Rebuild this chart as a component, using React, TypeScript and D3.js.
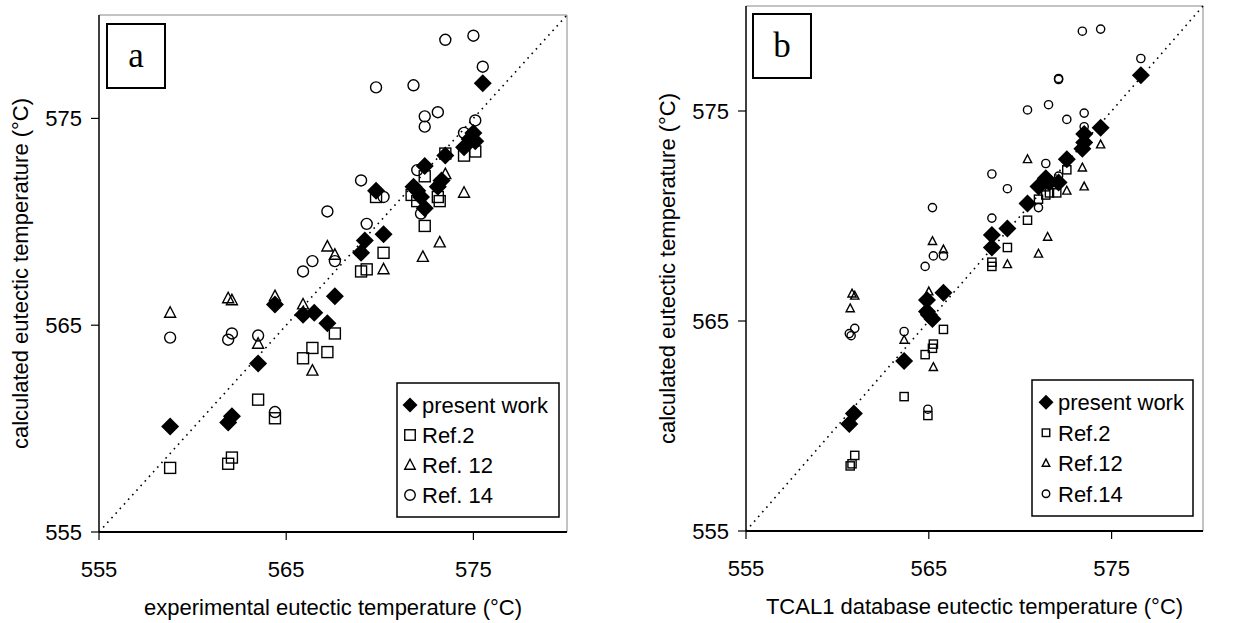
import * as d3 from "d3";
import React from "react";

type Pt = [number, number];

// tick values shared by both panels
const ticks = [555, 565, 575];
const domain: [number, number] = [555, 580];

// panel a: experimental vs calculated
const presentA: Pt[] = [
  [575.5, 576.7], [575.0, 574.3], [575.1, 573.9], [574.8, 574.0], [574.5, 573.6], [573.5, 573.2],
  [572.4, 572.7], [571.8, 571.7], [572.0, 571.5], [572.2, 571.2], [572.4, 570.65], [573.1, 571.7],
  [573.3, 572.0], [569.8, 571.5], [570.2, 569.4], [569.2, 569.1], [569.0, 568.5], [567.6, 566.4],
  [564.4, 566.0], [565.9, 565.5], [566.5, 565.6], [567.2, 565.1], [563.5, 563.15], [558.8, 560.1],
  [561.9, 560.3], [562.1, 560.6],
];
const ref2A: Pt[] = [
  [575.1, 573.4], [574.5, 573.2], [573.5, 573.3], [572.4, 572.2], [571.7, 571.3], [572.0, 571.0],
  [573.1, 571.2], [573.2, 571.0], [572.4, 569.8], [569.8, 571.2], [570.2, 568.5], [569.0, 567.6],
  [569.3, 567.7], [567.6, 564.6], [566.4, 563.9], [567.2, 563.7], [565.9, 563.4], [563.5, 561.4],
  [564.4, 560.5], [558.8, 558.1], [561.9, 558.3], [562.1, 558.6],
];
const ref12A: Pt[] = [
  [573.5, 572.3], [574.5, 571.4], [573.2, 569.0], [572.3, 568.3], [567.2, 568.8], [567.6, 568.4],
  [570.2, 567.7], [561.9, 566.3], [562.1, 566.2], [564.4, 566.4], [565.9, 566.0], [558.8, 565.6],
  [563.5, 564.1], [566.4, 562.8],
];
const ref14A: Pt[] = [
  [573.5, 578.8], [575.0, 579.0], [575.5, 577.5], [569.8, 576.5], [571.8, 576.6], [573.1, 575.3],
  [572.4, 575.1], [572.4, 574.6], [575.1, 574.9], [574.5, 574.3], [572.0, 572.5], [573.2, 571.9],
  [569.0, 572.0], [570.2, 571.2], [572.2, 570.4], [567.2, 570.5], [569.3, 569.9], [566.4, 568.1],
  [565.9, 567.6], [567.6, 568.1], [558.8, 564.4], [561.9, 564.3], [562.1, 564.6], [563.5, 564.5],
  [564.4, 560.8],
];

// panel b: TCAL1 database vs calculated
const presentB: Pt[] = [
  [576.6, 576.7], [574.4, 574.2], [573.5, 573.9], [573.5, 573.5], [573.4, 573.2], [572.55, 572.7],
  [571.4, 571.8], [571.0, 571.4], [572.1, 571.6], [571.6, 571.6], [570.4, 570.6], [569.3, 569.4],
  [568.45, 569.1], [568.45, 568.5], [565.8, 566.35], [564.9, 566.0], [564.9, 565.45], [565.0, 565.3],
  [565.2, 565.1], [563.65, 563.1], [560.65, 560.1], [560.9, 560.6],
];
const ref2B: Pt[] = [
  [572.55, 572.2], [571.4, 571.0], [571.6, 571.1], [572.0, 571.1], [571.0, 570.8], [570.4, 569.8],
  [569.3, 568.5], [568.45, 567.6], [568.45, 567.8], [565.8, 564.6], [565.25, 563.9], [565.2, 563.7],
  [564.8, 563.4], [563.65, 561.4], [564.95, 560.5], [560.7, 558.1], [560.8, 558.2], [560.95, 558.6],
];
const ref12B: Pt[] = [
  [574.4, 573.4], [573.4, 572.3], [570.4, 572.7], [573.5, 571.4], [572.55, 571.2], [571.5, 569.0],
  [571.0, 568.2], [569.3, 567.7], [565.2, 568.8], [565.8, 568.4], [560.8, 566.3], [560.95, 566.2],
  [560.7, 565.6], [565.0, 566.4], [563.65, 564.1], [565.25, 562.8],
];
const ref14B: Pt[] = [
  [573.4, 578.8], [574.4, 578.9], [576.6, 577.5], [572.1, 576.55], [572.1, 576.5], [570.4, 575.05],
  [571.55, 575.3], [572.55, 574.6], [573.5, 574.9], [573.5, 574.25], [571.4, 572.5], [568.45, 572.0],
  [569.3, 571.3], [571.0, 570.4], [572.1, 571.9], [565.2, 570.4], [568.45, 569.9], [565.25, 568.1],
  [565.8, 568.1], [564.8, 567.6], [560.65, 564.4], [560.75, 564.3], [560.95, 564.65], [563.65, 564.5],
  [564.95, 560.8],
];

const legendA = ["present work", "Ref.2", "Ref. 12", "Ref. 14"];
const legendB = ["present work", "Ref.2", "Ref.12", "Ref.14"];

const FONT = "'Liberation Sans', Arial, sans-serif";

type Kind = "diamond" | "square" | "triangle" | "circle";

const Marker: React.FC<{ kind: Kind; x: number; y: number; s: number }> = ({ kind, x, y, s }) => {
  const sw = 1.4;
  if (kind === "diamond")
    return <path d={`M${x},${y - s}L${x + s},${y}L${x},${y + s}L${x - s},${y}Z`} fill="black" />;
  if (kind === "square")
    return <rect x={x - s / 2} y={y - s / 2} width={s} height={s} fill="none" stroke="black" strokeWidth={sw} />;
  if (kind === "triangle")
    return (
      <path
        d={`M${x},${y - s * 0.55}L${x + s / 2},${y + s * 0.4}L${x - s / 2},${y + s * 0.4}Z`}
        fill="none" stroke="black" strokeWidth={sw} strokeLinejoin="miter"
      />
    );
  return <circle cx={x} cy={y} r={s / 2} fill="none" stroke="black" strokeWidth={sw} />;
};

interface PanelProps {
  series: Pt[][];
  labels: string[];
  x0: number; x1: number; y0: number; y1: number;
  open: number;
  legend: { x: number; y: number; w: number; h: number; mx: number; open: number };
  letter: string;
  box: { x: number; y: number };
  xTitle: string;
  yTitleX: number;
}

const kinds: Kind[] = ["diamond", "square", "triangle", "circle"];

const Panel: React.FC<PanelProps> = (p) => {
  const x = d3.scaleLinear().domain(domain).range([p.x0, p.x1]);
  const y = d3.scaleLinear().domain(domain).range([p.y1, p.y0]);
  const cx = (p.x0 + p.x1) / 2;
  const cy = (p.y0 + p.y1) / 2;
  const rowH = (p.legend.h - 14) / 4;
  return (
    <g fontFamily={FONT}>
      {/* frame */}
      <line x1={p.x0} x2={p.x1} y1={p.y0} y2={p.y0} stroke="#888" strokeWidth={1} />
      <line x1={p.x1} x2={p.x1} y1={p.y0} y2={p.y1} stroke="#888" strokeWidth={1} />
      <line x1={p.x0} x2={p.x0} y1={p.y0} y2={p.y1} stroke="black" strokeWidth={1.5} />
      <line x1={p.x0} x2={p.x1} y1={p.y1} y2={p.y1} stroke="black" strokeWidth={2} />
      {/* diagonal */}
      <line x1={x(555)} y1={y(555)} x2={x(580)} y2={y(580)} stroke="black" strokeWidth={1.6} strokeDasharray="1.6,4.6" />
      {ticks.map((t) => (
        <g key={"x" + t}>
          <line x1={x(t)} x2={x(t)} y1={p.y1} y2={p.y1 + 8} stroke="black" strokeWidth={1.2} />
          <text x={x(t)} y={p.y1 + 45} textAnchor="middle" fontSize={22}>{t}</text>
        </g>
      ))}
      {ticks.map((t) => (
        <g key={"y" + t}>
          <line x1={p.x0 - 8} x2={p.x0} y1={y(t)} y2={y(t)} stroke="black" strokeWidth={1.2} />
          <text x={p.x0 - 17} y={y(t)} dy="0.36em" textAnchor="end" fontSize={22}>{t}</text>
        </g>
      ))}
      <text x={cx} y={p.y1 + 83} textAnchor="middle" fontSize={22}>{p.xTitle}</text>
      <text transform={`translate(${p.yTitleX},${cy}) rotate(-90)`} textAnchor="middle" dy="0.36em" fontSize={22}>
        calculated eutectic temperature (°C)
      </text>
      {/* markers */}
      {p.series.map((s, i) =>
        s.map((d, j) => (
          <Marker key={i + "-" + j} kind={kinds[i]} x={x(d[0])} y={y(d[1])} s={i === 0 ? 9 : p.open} />
        ))
      )}
      {/* letter box */}
      <rect x={p.box.x} y={p.box.y} width={58} height={64} fill="white" stroke="black" strokeWidth={2} />
      <text x={p.box.x + 29} y={p.box.y + 32} dy="0.3em" textAnchor="middle" fontSize={35} fontFamily="'Liberation Serif', 'Times New Roman', serif">
        {p.letter}
      </text>
      {/* legend */}
      <rect x={p.legend.x} y={p.legend.y} width={p.legend.w} height={p.legend.h} fill="white" stroke="black" strokeWidth={1.5} />
      {p.labels.map((l, i) => {
        const ry = p.legend.y + 7 + rowH * (i + 0.5);
        return (
          <g key={l}>
            <Marker kind={kinds[i]} x={p.legend.mx} y={ry} s={i === 0 ? 7.5 : p.legend.open} />
            <text x={p.legend.mx + 12} y={ry} dy="0.36em" fontSize={22}>{l}</text>
          </g>
        );
      })}
    </g>
  );
};

const App: React.FC = () => (
  <svg width={1253} height={623} style={{ position: "absolute", left: 0, top: 0, background: "white" }}>
    <Panel
      series={[presentA, ref2A, ref12A, ref14A]}
      labels={legendA}
      x0={99} x1={567} y0={15} y1={532}
      open={11}
      legend={{ x: 397, y: 383, w: 162, h: 134, mx: 410, open: 10.5 }}
      letter="a"
      box={{ x: 107, y: 24 }}
      xTitle="experimental eutectic temperature (°C)"
      yTitleX={20}
    />
    <Panel
      series={[presentB, ref2B, ref12B, ref14B]}
      labels={legendB}
      x0={746} x1={1203} y0={6} y1={531}
      open={8.2}
      legend={{ x: 1032, y: 380, w: 161, h: 136, mx: 1046, open: 7.5 }}
      letter="b"
      box={{ x: 753, y: 14 }}
      xTitle="TCAL1 database eutectic temperature (°C)"
      yTitleX={667}
    />
  </svg>
);

export default App;
